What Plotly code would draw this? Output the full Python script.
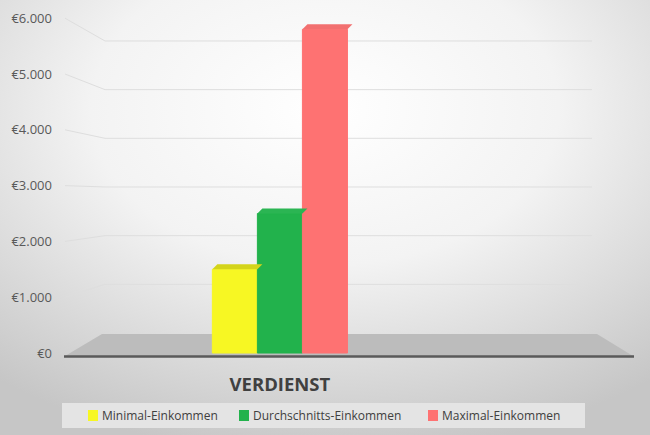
import base64
import plotly.graph_objects as go

# data
categories = ["VERDIENST"]
series_names = ["Minimal-Einkommen", "Durchschnitts-Einkommen", "Maximal-Einkommen"]
series_values = [1500, 2500, 5800]
series_colors = ["#f7f723", "#22b24c", "#fe7272"]
top_colors = ["#d4d41a", "#2bb553", "#f27070"]
tick_values = [0, 1000, 2000, 3000, 4000, 5000, 6000]
tick_labels = ["€0", "€1.000", "€2.000", "€3.000", "€4.000", "€5.000", "€6.000"]

W, H = 650, 435
ML, MR, MT, MB = 65, 15, 10, 75
PW, PH = W - ML - MR, H - MT - MB
Y_RANGE = [-125, 6147]
X_RANGE = [-0.377, 0.623]
BARGAP = 0.763


def fx(px):
    """figure pixel x -> plot-area fraction"""
    return (px - ML) / PW


def fy(py):
    """figure pixel y -> plot-area fraction"""
    return (MT + PH - py) / PH


def front_py(v):
    return MT + PH * (Y_RANGE[1] - v) / (Y_RANGE[1] - Y_RANGE[0])


def back_py(v):
    # back wall of the fake 3d box is a little lower and flatter
    return 333 - v * 0.04867


# radial gradient background as an svg image
svg = f"""<svg xmlns='http://www.w3.org/2000/svg' width='{W}' height='{H}' preserveAspectRatio='none'>
<defs><radialGradient id='g' cx='50%' cy='25%' r='80%'>
<stop offset='0%' stop-color='#ffffff'/>
<stop offset='45%' stop-color='#f3f3f3'/>
<stop offset='100%' stop-color='#c6c6c6'/>
</radialGradient></defs>
<rect width='{W}' height='{H}' fill='url(#g)'/></svg>"""
bg_src = "data:image/svg+xml;base64," + base64.b64encode(svg.encode()).decode()

fig = go.Figure()
for name, val, col in zip(series_names, series_values, series_colors):
    fig.add_trace(go.Bar(
        x=categories, y=[val], name=name,
        marker=dict(color=col, line=dict(color=col, width=1)),
        hoverinfo="skip", showlegend=False,
    ))

shapes = []
# back wall gridlines + side wall diagonals
for v in tick_values[1:]:
    shapes.append(dict(type="line", xref="paper", yref="paper",
                       x0=fx(105), x1=fx(592), y0=fy(back_py(v)), y1=fy(back_py(v)),
                       line=dict(color="#dedede", width=1), layer="below"))
    shapes.append(dict(type="line", xref="paper", yref="paper",
                       x0=fx(65), x1=fx(105), y0=fy(front_py(v)), y1=fy(back_py(v)),
                       line=dict(color="#dedede", width=1), layer="below"))

# floor
floor = (f"M {fx(65)},{fy(356)} L {fx(102)},{fy(334)} L {fx(597)},{fy(334)} "
         f"L {fx(633)},{fy(356)} Z")
shapes.append(dict(type="path", xref="paper", yref="paper", path=floor,
                   fillcolor="#bcbcbc", line=dict(width=0), layer="below"))
shapes.append(dict(type="line", xref="paper", yref="paper",
                   x0=fx(64), x1=fx(634), y0=fy(356.5), y1=fy(356.5),
                   line=dict(color="#5a5a5a", width=2.5), layer="below"))

# top faces of the bars
group_w = 1 - BARGAP
bar_w = group_w / len(series_values)
dx = 5 / PW * (X_RANGE[1] - X_RANGE[0])
dy = 5 / PH * (Y_RANGE[1] - Y_RANGE[0])
for i, (val, col) in enumerate(zip(series_values, top_colors)):
    x0 = -group_w / 2 + i * bar_w
    x1 = x0 + bar_w
    path = (f"M {x0},{val} L {x0 + dx},{val + dy} L {x1 + dx},{val + dy} "
            f"L {x1},{val} Z")
    shapes.append(dict(type="path", xref="x", yref="y", path=path,
                       fillcolor=col, line=dict(width=0), layer="above"))

# legend box drawn by hand so the swatches sit close to their text
shapes.append(dict(type="rect", xref="paper", yref="paper",
                   x0=fx(62), x1=fx(585), y0=fy(428), y1=fy(403),
                   fillcolor="#e4e4e4", line=dict(width=0), layer="below"))
annotations = []
swatch_px = [88, 239, 428]
for name, col, sx in zip(series_names, series_colors, swatch_px):
    shapes.append(dict(type="rect", xref="paper", yref="paper",
                       x0=fx(sx), x1=fx(sx + 10), y0=fy(421), y1=fy(410),
                       fillcolor=col, line=dict(width=0)))
    annotations.append(dict(text=name, xref="paper", yref="paper",
                            x=fx(sx + 12), y=fy(415.5), xanchor="left", yanchor="middle",
                            showarrow=False, font=dict(size=12, color="#404040")))

fig.update_layout(
    width=W, height=H,
    margin=dict(l=ML, r=MR, t=MT, b=MB, autoexpand=False),
    paper_bgcolor="#ffffff",
    plot_bgcolor="rgba(0,0,0,0)",
    font=dict(family="Open Sans", color="#595959"),
    barmode="group", bargap=BARGAP, bargroupgap=0,
    showlegend=False,
    shapes=shapes,
    annotations=annotations,
    images=[dict(source=bg_src, xref="paper", yref="paper",
                 x=fx(0), y=fy(0), sizex=W / PW, sizey=H / PH,
                 xanchor="left", yanchor="top", sizing="stretch", layer="below")],
)
fig.update_xaxes(type="category", range=X_RANGE, showgrid=False, showline=False,
                 zeroline=False, ticks="", ticklabelstandoff=11, automargin=False,
                 tickfont=dict(size=18.5, color="#404040", family="Open Sans", weight="bold"))
fig.update_yaxes(range=Y_RANGE, tickvals=tick_values, ticktext=tick_labels,
                 showgrid=False, zeroline=False, showline=False, ticks="",
                 automargin=False, ticklabelstandoff=12,
                 tickfont=dict(size=13, color="#595959"))

# the page body has a default 8px margin; drop it so the figure fills the window
fig.write_html("out.html", config={"displayModeBar": False},
               post_script="document.body.style.margin='0';")
